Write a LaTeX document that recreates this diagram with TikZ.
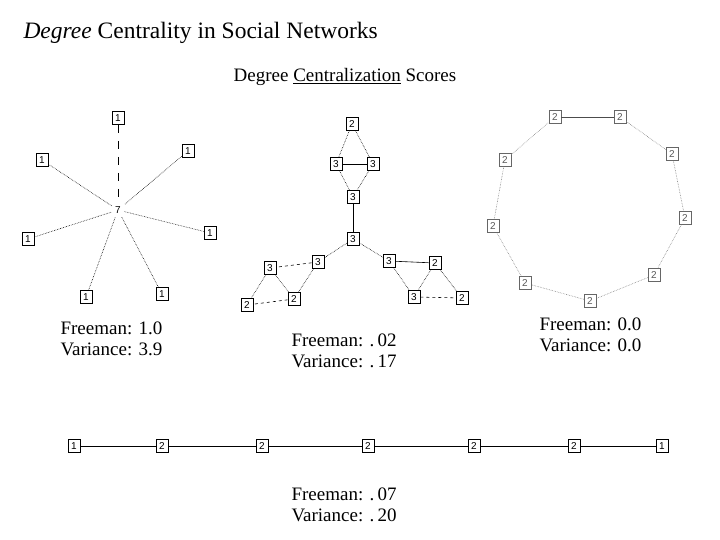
\documentclass[tikz,border=0pt]{standalone}
\usepackage{fontspec}
\setmainfont{Liberation Serif}
\newfontfamily\nf{Liberation Sans}
\begin{document}
\begin{tikzpicture}[x=1pt,y=-1pt,
 nd/.style={draw,line width=0.6pt,font=\nf\fontsize{10}{10}\selectfont,inner sep=1.2pt,minimum width=12pt,minimum height=13pt,fill=white},
 gn/.style={nd,draw=gray!80!black,text=gray!70!black},
 dl/.style={densely dotted,line width=0.6pt},
 dsh/.style={dashed,line width=0.6pt},
 sl/.style={line width=0.6pt},
 lab/.style={font=\fontsize{19}{21}\selectfont,align=left,anchor=north west}]
\useasboundingbox (0,0) rectangle (720,540);
\node[anchor=west,font=\fontsize{23.5}{25}\selectfont] (t) at (20,33) {\textit{Degree} Centrality in Social Networks};
\node[font=\fontsize{19}{21}\selectfont] (st) at (345,77) {Degree \underline{Centralization} Scores};
% star
\node[nd,draw=none] (c) at (118,210) {7};
\foreach \n/\x/\y in {a/118/118,b/42/160,d/188/151,e/28/239,f/210/233,g/86/297,h/162/294}{\node[nd] (\n) at (\x,\y) {1};}
\draw[dsh,dash pattern=on 8pt off 8pt] (a)--(c);
\foreach \n in {b,d,e,f,g,h}{\draw[dl] (\n)--(c);}
% middle
\node[nd] (m1) at (352,124) {2};
\node[nd] (m2) at (336,164) {3};
\node[nd] (m3) at (373,164) {3};
\node[nd] (m4) at (353,197) {3};
\node[nd] (m5) at (353,239) {3};
\node[nd] (l1) at (318,262) {3};
\node[nd] (l2) at (270,268) {3};
\node[nd] (l3) at (294,299) {2};
\node[nd] (l4) at (247,305) {2};
\node[nd] (r1) at (389,261) {3};
\node[nd] (r2) at (435,263) {2};
\node[nd] (r3) at (414,297) {3};
\node[nd] (r4) at (462,298) {2};
\draw[dl] (m1)--(m2); \draw[dl] (m1)--(m3); \draw[sl] (m2)--(m3);
\draw[dl] (m2)--(m4); \draw[dl] (m3)--(m4); \draw[sl] (m4)--(m5);
\draw[dl] (m5)--(l1); \draw[dl] (m5)--(r1);
\draw[dsh] (l1)--(l2); \draw[dl] (l1)--(l3); \draw[dl] (l2)--(l3); \draw[dl] (l2)--(l4); \draw[dsh] (l3)--(l4);
\draw[sl] (r1)--(r2); \draw[dl] (r1)--(r3); \draw[dl] (r2)--(r3); \draw[dl] (r2)--(r4); \draw[dsh] (r3)--(r4);
% ring
\foreach \n/\x/\y in {k1/555/117,k2/620/117,k3/672/154,k4/685/218,k5/654/275,k6/590/301,k7/525/283,k8/493/226,k9/505/160}{\node[gn] (\n) at (\x,\y) {2};}
\foreach \a/\b in {k2/k3,k3/k4,k4/k5,k5/k6,k6/k7,k7/k8,k8/k9,k9/k1}{\draw[gray,line width=0.6pt,densely dotted] (\a)--(\b);}
\draw[gray!60!black,line width=0.6pt] (k1)--(k2);
% line
\node[nd] (p1) at (74,446) {1};
\node[nd] (p2) at (162,446) {2};
\node[nd] (p3) at (262,446) {2};
\node[nd] (p4) at (368,446) {2};
\node[nd] (p5) at (474,446) {2};
\node[nd] (p6) at (574,446) {2};
\node[nd] (p7) at (662,446) {1};
\foreach \a/\b in {p1/p2,p2/p3,p3/p4,p4/p5,p5/p6,p6/p7}{\draw[sl] (\a)--(\b);}
% labels
\node[lab] (f1) at (57,318) {Freeman: 1.0\\Variance: 3.9};
\node[lab] (f2) at (288,330) {Freeman: .\,02\\Variance: .\,17};
\node[lab] (f3) at (536,314) {Freeman: 0.0\\Variance: 0.0};
\node[lab] (f4) at (288,484) {Freeman: .\,07\\Variance: .\,20};
\end{tikzpicture}
\end{document}
